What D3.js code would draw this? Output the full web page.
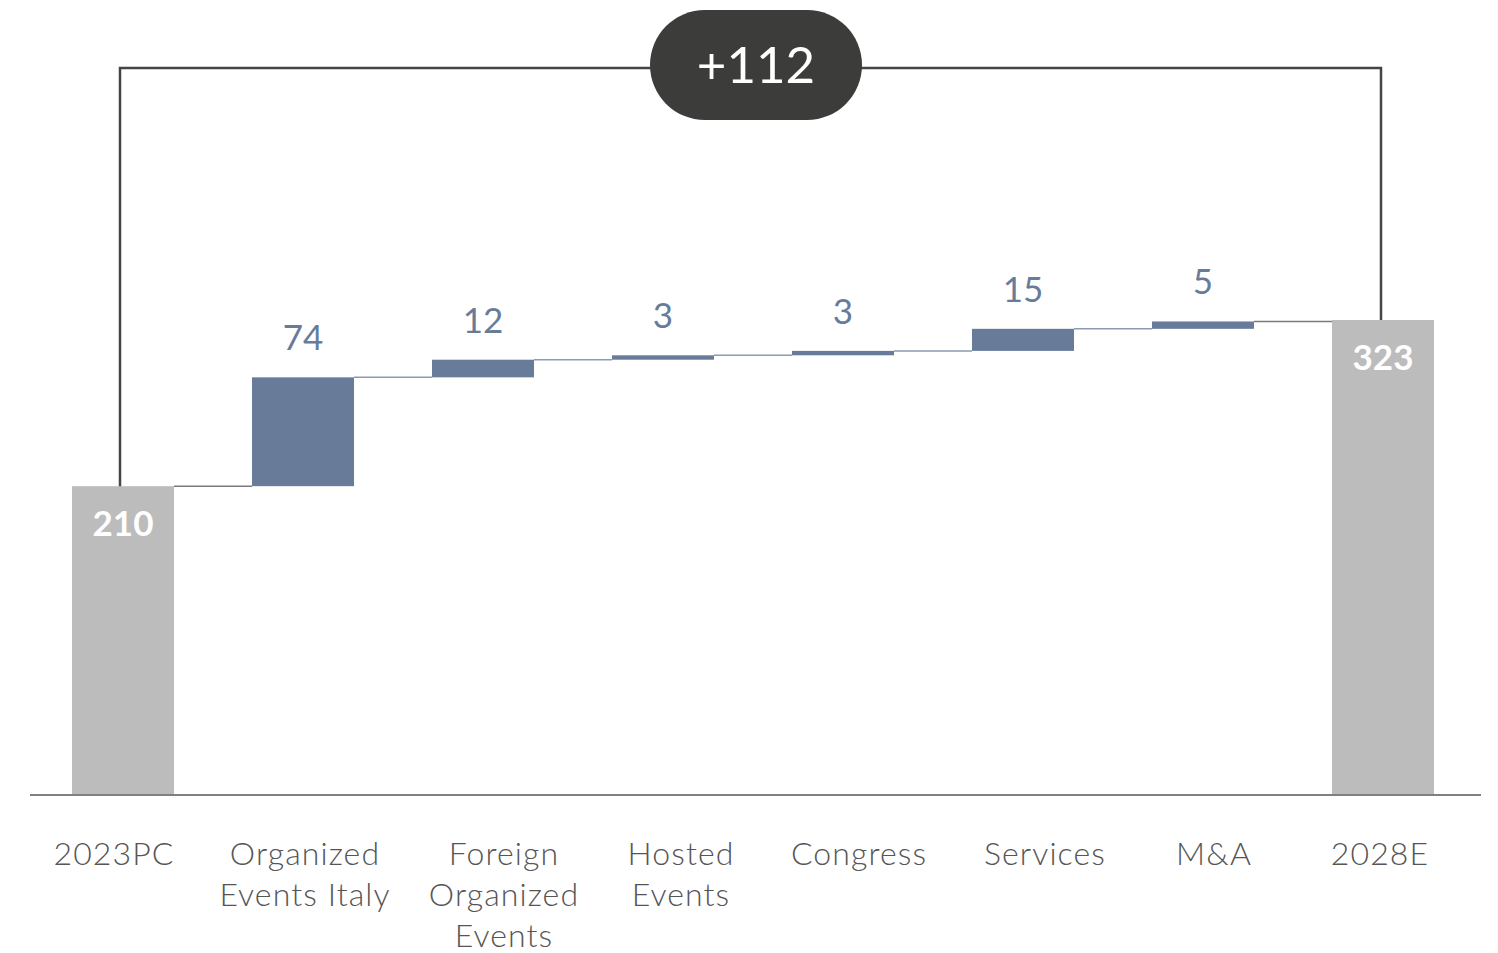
<!DOCTYPE html>
<html>
<head>
<meta charset="utf-8">
<script src="https://cdn.jsdelivr.net/npm/d3@7"></script>
<style>
  html, body { margin: 0; padding: 0; background: #ffffff; }
  svg { display: block; }
</style>
</head>
<body>
<svg id="chart" width="1498" height="953"></svg>
<script>
// Revenue bridge: 2023PC to 2028E by growth driver
const categories = ["2023PC", "Organized Events Italy", "Foreign Organized Events", "Hosted Events", "Congress", "Services", "M&A", "2028E"];
const labelLines = [["2023PC"], ["Organized", "Events Italy"], ["Foreign", "Organized", "Events"], ["Hosted", "Events"], ["Congress"], ["Services"], ["M&A"], ["2028E"]];
const startValue = 210;
const deltas = [74, 12, 3, 3, 15, 5];
const endValue = 323;
const totalChange = "+112";

// Horizontal nudges of the category captions relative to their bar centres
const labelDx = [-9, 2, 21, 18, 16, 22, 11, -3];

const W = 1498, H = 953;
const svg = d3.select("#chart");

const x = d3.scaleBand()
  .domain(categories)
  .range([33, 1473])
  .paddingInner(0.4333)
  .paddingOuter(0.4333 / 2);

const y = d3.scaleLinear().domain([0, endValue]).range([795, 320]);

// Build bar records
const bars = [];
bars.push({ cat: categories[0], y0: 0, y1: startValue, value: startValue, kind: "total" });
let run = startValue;
deltas.forEach((d, i) => {
  bars.push({ cat: categories[i + 1], y0: run, y1: run + d, value: d, kind: "delta" });
  run += d;
});
bars.push({ cat: categories[categories.length - 1], y0: 0, y1: endValue, value: endValue, kind: "total" });

const grey = "#bcbcbc";
const blue = "#687c99";
const font = "Lato, 'Open Sans', sans-serif";

// Connectors between consecutive bars
for (let i = 0; i < bars.length - 1; i++) {
  const a = bars[i], b = bars[i + 1];
  const level = a.y1;
  const greyLink = a.kind === "total" || b.kind === "total";
  svg.append("line")
    .attr("x1", x(a.cat) + x.bandwidth())
    .attr("x2", x(b.cat))
    .attr("y1", y(level))
    .attr("y2", y(level))
    .attr("stroke", greyLink ? "#7a7a7a" : "#8a9bb3")
    .attr("stroke-width", 1.5);
}

// Bars
svg.selectAll("rect.bar")
  .data(bars)
  .join("rect")
  .attr("class", "bar")
  .attr("x", d => x(d.cat))
  .attr("width", x.bandwidth())
  .attr("y", d => y(Math.max(d.y0, d.y1)))
  .attr("height", d => Math.abs(y(d.y0) - y(d.y1)))
  .attr("fill", d => d.kind === "total" ? grey : blue);

// Baseline
svg.append("line")
  .attr("x1", 30).attr("x2", 1481)
  .attr("y1", y(0)).attr("y2", y(0))
  .attr("stroke", "#808080")
  .attr("stroke-width", 2);

// Value labels
svg.selectAll("text.delta")
  .data(bars.filter(d => d.kind === "delta"))
  .join("text")
  .attr("class", "delta")
  .attr("x", d => x(d.cat) + x.bandwidth() / 2)
  .attr("y", d => y(d.y1) - 27)
  .attr("text-anchor", "middle")
  .attr("font-family", font)
  .attr("font-size", 35)
  .attr("fill", blue)
  .text(d => d.value);

svg.selectAll("text.total")
  .data(bars.filter(d => d.kind === "total"))
  .join("text")
  .attr("class", "total")
  .attr("x", d => x(d.cat) + x.bandwidth() / 2)
  .attr("y", d => y(d.y1) + 50)
  .attr("text-anchor", "middle")
  .attr("font-family", font)
  .attr("font-weight", 700)
  .attr("font-size", 35)
  .attr("fill", "#ffffff")
  .text(d => d.value);

// Category captions
const cap = svg.selectAll("text.cat")
  .data(categories)
  .join("text")
  .attr("class", "cat")
  .attr("text-anchor", "middle")
  .attr("font-family", font)
  .attr("font-weight", 300)
  .attr("font-size", 32)
  .attr("letter-spacing", 1.1)
  .attr("fill", "#555555");
cap.each(function (c, i) {
  const t = d3.select(this);
  const cx = x(c) + x.bandwidth() / 2 + labelDx[i];
  labelLines[i].forEach((line, j) => {
    t.append("tspan")
      .attr("x", cx)
      .attr("y", 865 + j * 41)
      .text(line);
  });
});

// Overall change bracket
const first = bars[0], last = bars[bars.length - 1];
const lx = x(first.cat) + x.bandwidth() / 2 - 3;
const rx = x(last.cat) + x.bandwidth() / 2 - 2;
const topY = 68;
svg.append("path")
  .attr("d", `M${lx},${y(first.y1)} V${topY} H${rx} V${y(last.y1)}`)
  .attr("fill", "none")
  .attr("stroke", "#454545")
  .attr("stroke-width", 2.5);

const pillCx = 756, pillW = 212, pillH = 110;
svg.append("rect")
  .attr("x", pillCx - pillW / 2)
  .attr("y", topY - pillH / 2 - 3)
  .attr("width", pillW)
  .attr("height", pillH)
  .attr("rx", pillH / 2)
  .attr("fill", "#3c3c3b");
svg.append("text")
  .attr("x", pillCx)
  .attr("y", 83)
  .attr("text-anchor", "middle")
  .attr("font-family", font)
  .attr("font-size", 51)
  .attr("fill", "#ffffff")
  .text(totalChange);
</script>
</body>
</html>
